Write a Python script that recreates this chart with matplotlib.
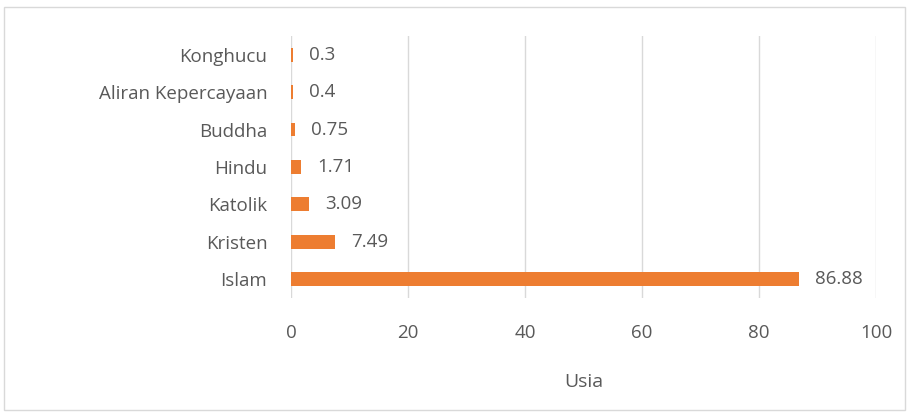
import numpy as np
import matplotlib
matplotlib.use('Agg')
import matplotlib.pyplot as plt
from matplotlib.patches import Rectangle

#--data
categories = ['Islam', 'Kristen', 'Katolik', 'Hindu', 'Buddha', 'Aliran Kepercayaan', 'Konghucu']
values = [86.88, 7.49, 3.09, 1.71, 0.75, 0.4, 0.3]
xticks = [0, 20, 40, 60, 80, 100]
xlabel = 'Usia'

plt.rcParams['font.family'] = ['Open Sans', 'DejaVu Sans']
textc = '#595959'

fig = plt.figure(figsize=(9.09, 4.13), dpi=100)
ax = fig.add_axes([0.320, 0.2785, 0.6437, 0.6343])

#--chart border
fig.patches.append(Rectangle((0.0045, 0.007), 0.991, 0.976, transform=fig.transFigure,
                             fill=False, edgecolor='#D9D9D9', lw=1.0))

y = np.arange(len(categories))
ax.barh(y, values, height=0.37, color='#ED7D31', zorder=3)

for yi, v in zip(y, values):
    ax.annotate('%g' % v, (v, yi), xytext=(11.5, 0), textcoords='offset points',
                va='center', ha='left', fontsize=13.5, color=textc)

ax.set_xlim(0, 100)
ax.set_ylim(-0.5, len(categories) - 0.5)
ax.set_xticks(xticks)
ax.set_yticks(y)
ax.set_yticklabels(categories)
ax.grid(axis='x', color='#D9D9D9', lw=1.0, zorder=0)
for s in ax.spines.values():
    s.set_visible(False)
ax.tick_params(axis='both', length=0, labelsize=13.5, labelcolor=textc)
ax.tick_params(axis='y', pad=17)
ax.tick_params(axis='x', pad=19)
ax.set_xlabel(xlabel, fontsize=14, color=textc, labelpad=22)

fig.savefig('out.png', dpi=100)
